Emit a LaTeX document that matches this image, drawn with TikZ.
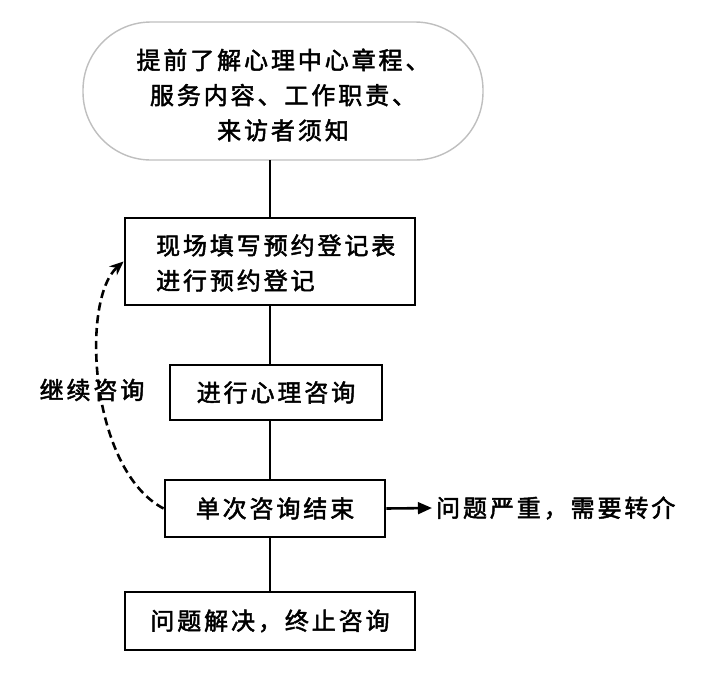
\documentclass[tikz,border=0pt]{standalone}
\usepackage{fontspec}
\newfontfamily\cjk{Noto Sans CJK SC}[FakeBold=2,LetterSpace=12]
\usetikzlibrary{arrows.meta}
\begin{document}
\begin{tikzpicture}[x=0.03cm,y=-0.03cm,
  font=\cjk\fontsize{20.5}{30}\selectfont,
  box/.style={draw,line width=2.4pt,inner sep=0pt},
  ln/.style={line width=2.2pt}]
\useasboundingbox (0,0) rectangle (727,686);
\node[draw=black!25,line width=1.2pt,rounded corners=58pt,minimum width=400*0.03cm,minimum height=138*0.03cm,fill=white] (top) at (283,91) {};
\node[align=center] (toptxt) at (283,95) {提前了解心理中心章程、\\服务内容、工作职责、\\来访者须知};
\node[box,minimum width=290*0.03cm,minimum height=87*0.03cm] (b2) at (270,261.5) {};
\node[align=left,anchor=west] (t2) at (152,263) {现场填写预约登记表\\进行预约登记};
\node[box,minimum width=212*0.03cm,minimum height=55*0.03cm] (b3) at (276,392.5) {进行心理咨询};
\node[box,minimum width=220*0.03cm,minimum height=57*0.03cm] (b4) at (275,508.5) {单次咨询结束};
\node[box,minimum width=290*0.03cm,minimum height=58*0.03cm] (b5) at (270,621) {问题解决，终止咨询};
\node[anchor=west] (t4) at (432,508) {问题严重，需要转介};
\node (t6) at (92,390) {继续咨询};
\draw[ln] (270,160) -- (b2.north -| 270,0);
\draw[ln] (b2.south -| 270,0) -- (b3.north -| 270,0);
\draw[ln] (b3.south -| 270,0) -- (b4.north -| 270,0);
\draw[ln] (b4.south -| 270,0) -- (b5.north -| 270,0);
\draw[ln,-{Triangle[length=12pt,width=10pt]}] (b4.east) -- (t4.west);
\draw[ln,dash pattern=on 7pt off 4pt,-{Stealth[length=12pt,width=10pt]}] (b4.west) .. controls (90,470) and (80,300) .. (b2.west);
\end{tikzpicture}
\end{document}
